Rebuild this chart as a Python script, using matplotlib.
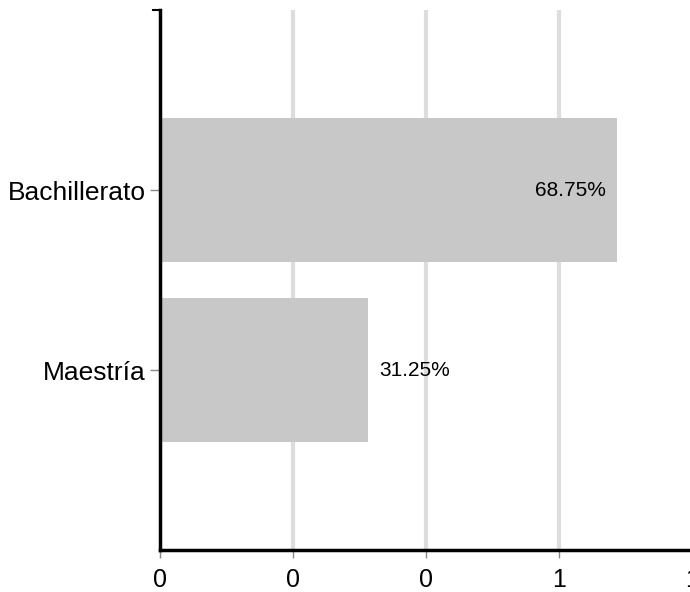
import matplotlib.pyplot as plt
from matplotlib.ticker import FuncFormatter

categories = ["Bachillerato", "Maestría"]
shares = [0.6875, 0.3125]
xticks = [0, 0.2, 0.4, 0.6, 0.8]

plt.rcParams["font.family"] = ["Liberation Sans", "DejaVu Sans"]

fig = plt.figure(figsize=(6.9, 5.92), dpi=100)
W, H = 690, 592
ax = fig.add_axes([160 / W, (H - 550) / H, (692 - 160) / W, 540 / H])

ypos = list(range(len(categories)))
bars = ax.barh(ypos, shares, height=0.8, color="#c8c8c8", zorder=2)

for y, v in zip(ypos, shares):
    label = f"{v * 100:.2f}%"
    if v > 0.5:
        ax.annotate(label, (v, y), xytext=(-11, 0), textcoords="offset pixels",
                    ha="right", va="center", fontsize=15, zorder=3)
    else:
        ax.annotate(label, (v, y), xytext=(11, 0), textcoords="offset pixels",
                    ha="left", va="center", fontsize=15, zorder=3)

ax.set_xlim(0, 0.8)
ax.set_ylim(2, -1)
ax.set_yticks(ypos)
ax.set_yticklabels(categories, fontsize=19)
ax.set_xticks(xticks)
ax.xaxis.set_major_formatter(FuncFormatter(lambda x, p: f"{x:.0f}"))
ax.tick_params(axis="x", labelsize=18, length=6, width=1, color="#888888", pad=7)
ax.tick_params(axis="y", length=7, width=1, color="#888888", pad=3)

for x in xticks[1:]:
    ax.axvline(x, color="#dddddd", linewidth=3, zorder=1)

for side in ["top", "right"]:
    ax.spines[side].set_visible(False)
for side in ["left", "bottom"]:
    ax.spines[side].set_linewidth(2.5)
    ax.spines[side].set_color("black")
    ax.spines[side].set_zorder(4)

# small outer tick at the top of the y axis
ax.plot([-7 / 665, 0], [-1, -1], color="black", linewidth=1.5, clip_on=False, zorder=4)

fig.savefig("out.png", dpi=100)
